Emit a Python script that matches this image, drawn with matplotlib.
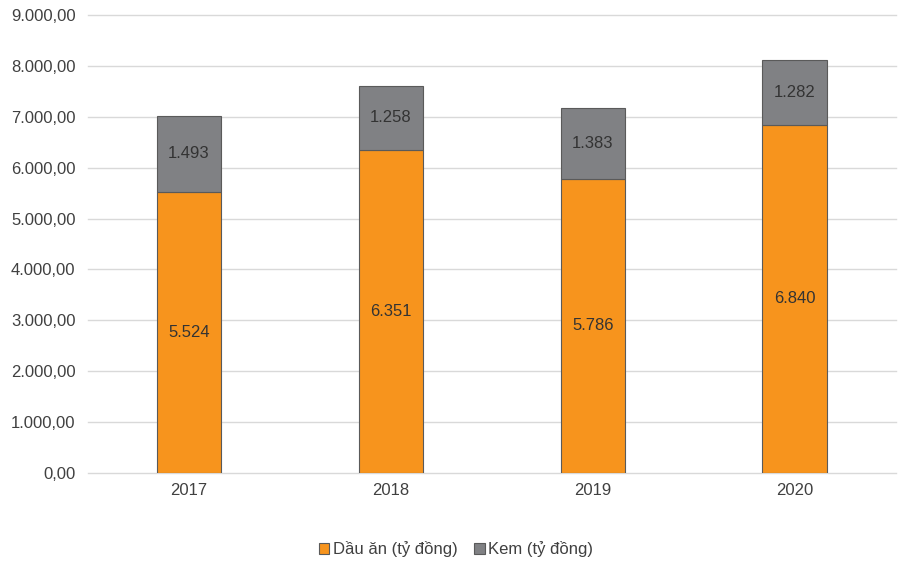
import matplotlib.pyplot as plt
from matplotlib.ticker import FuncFormatter
from matplotlib.patches import Patch

plt.rcParams['font.family'] = ['Liberation Sans', 'DejaVu Sans']

years = ['2017', '2018', '2019', '2020']
dau_an = [5524, 6351, 5786, 6840]
kem = [1493, 1258, 1383, 1282]
dau_an_labels = ['5.524', '6.351', '5.786', '6.840']
kem_labels = ['1.493', '1.258', '1.383', '1.282']

orange = '#F7941D'
gray = '#808184'
edge = '#5a5a5a'
text_col = '#404040'

fig = plt.figure(figsize=(9.03, 5.62), dpi=100)
ax = fig.add_axes([0.0975, 0.1584, 0.8945, 0.815])

x = range(len(years))
ax.bar(x, dau_an, width=0.32, color=orange, edgecolor=edge, linewidth=0.8, zorder=3)
ax.bar(x, kem, width=0.32, bottom=dau_an, color=gray, edgecolor=edge, linewidth=0.8, zorder=3)

for i in x:
    ax.text(i, dau_an[i] / 2, dau_an_labels[i], ha='center', va='center',
            fontsize=12, color='#333333', zorder=4)
    ax.text(i, dau_an[i] + kem[i] / 2, kem_labels[i], ha='center', va='center',
            fontsize=12, color='#333333', zorder=4)

ax.set_xlim(-0.5, 3.5)
ax.set_ylim(0, 9000)
ax.set_yticks(range(0, 9001, 1000))
ax.yaxis.set_major_formatter(FuncFormatter(lambda v, p: f'{int(v):,}'.replace(',', '.') + ',00'))
ax.set_xticks(list(x))
ax.set_xticklabels(years)
ax.tick_params(axis='both', length=0, labelsize=12, labelcolor=text_col)
ax.tick_params(axis='y', pad=9)
ax.tick_params(axis='x', pad=7)
ax.grid(axis='y', color='#d9d9d9', linewidth=1, zorder=0, clip_on=False)
for s in ax.spines.values():
    s.set_visible(False)

handles = [Patch(facecolor=orange, edgecolor=edge, linewidth=0.8),
           Patch(facecolor=gray, edgecolor=edge, linewidth=0.8)]
fig.legend(handles, ['Dầu ăn (tỷ đồng)', 'Kem (tỷ đồng)'], loc='center',
           bbox_to_anchor=(0.505, 0.023), ncol=2, frameon=False, fontsize=12,
           handlelength=0.65, handleheight=0.65, handletextpad=0.2, columnspacing=1.0,
           labelcolor=text_col)

fig.savefig('out.png', dpi=100)
